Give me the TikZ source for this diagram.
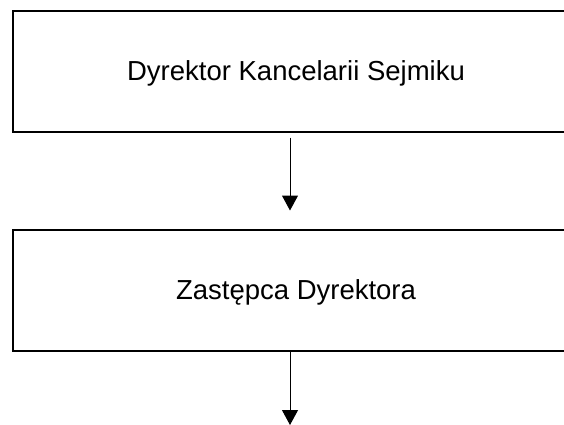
\documentclass[tikz,border=0pt]{standalone}
\usepackage{fontspec}
\setmainfont{Liberation Sans}
\usetikzlibrary{arrows.meta}
\begin{document}
\begin{tikzpicture}[x=1pt,y=-1pt,
  box/.style={draw=black, line width=2pt, rectangle, minimum width=566pt, minimum height=121pt,
    inner sep=0pt, font=\fontsize{27.5}{30}\selectfont, text height=19.5pt, text depth=0pt},
  conn/.style={line width=1pt, -{Triangle[length=15pt,width=16pt]}}]
\clip (0,0) rectangle (564,424);
\fill[white] (0,0) rectangle (564,424);
\node[box] (b1) at (296,71) {Dyrektor Kancelarii Sejmiku};
\node[box] (b2) at (296,290) {Zastępca Dyrektora};
\coordinate (end) at (290,425);
\draw[conn, shorten <=5pt, shorten >=18pt] ([xshift=-6pt]b1.south) -- ([xshift=-6pt]b2.north);
\draw[conn] ([xshift=-6pt]b2.south) -- (end);
\end{tikzpicture}
\end{document}
